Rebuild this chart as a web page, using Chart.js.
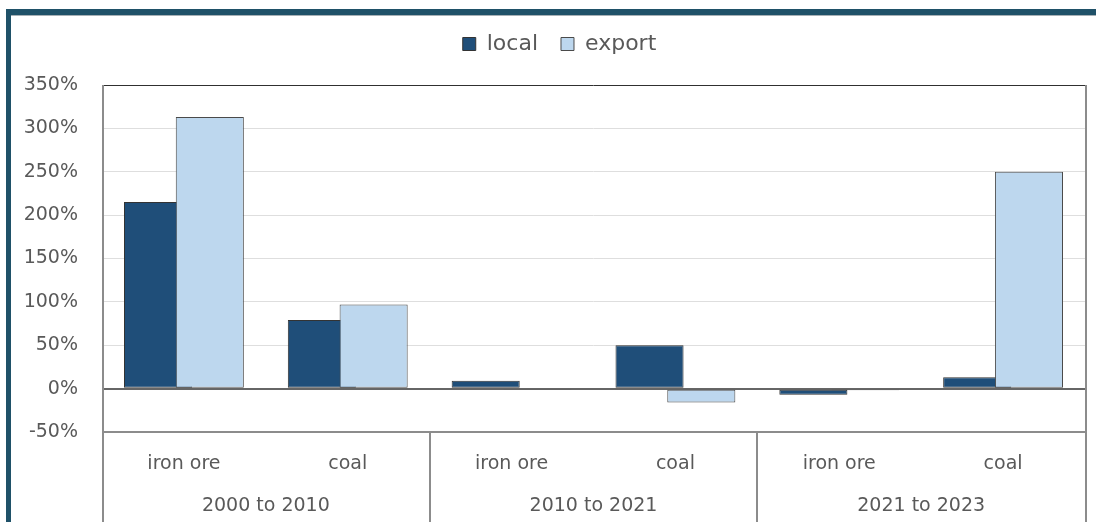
<!DOCTYPE html>
<html>
<head>
<meta charset="utf-8">
<script src="https://cdn.jsdelivr.net/npm/chart.js@4"></script>
<style>
  html, body { margin: 0; padding: 0; background: #ffffff; }
  #wrap { position: relative; width: 1096px; height: 522px; }
  canvas { display: block; }
</style>
</head>
<body>
<div id="wrap"><canvas id="chart" width="1096" height="522"></canvas></div>
<script>
// Commodity categories, one per bar pair, and the periods they are grouped under
const categories = ['iron ore', 'coal', 'iron ore', 'coal', 'iron ore', 'coal'];
const periods = ['2000 to 2010', '2010 to 2021', '2021 to 2023'];

// Percentage change by destination
const localChange = [215, 79, 9, 50, -7, 13];
const exportChange = [313, 97, -1, -16, -2, 250];

// Value axis range and step (percent)
const yMin = -50;
const yMax = 350;
const yStep = 50;

const TEXT = '#595959';
const FONT = '"DejaVu Sans", sans-serif';

// Offset of each bar from its category centre, in category units
const pairShift = 0.158;

const toPoints = (vals, dx) => vals.map((v, i) => ({ x: i + dx, y: v }));

// Frame around the figure and the category/period rows below the plot
const framePlugin = {
  id: 'frame',
  beforeDraw(chart) {
    const { ctx, width, height } = chart;
    ctx.save();
    ctx.fillStyle = '#1f5168';
    ctx.fillRect(6, 9, width - 6, 6);
    ctx.fillRect(6, 9, 5, height - 9);
    ctx.fillStyle = '#a7b0b5';
    ctx.fillRect(11, 15, width - 11, 1);
    ctx.restore();
  },
  afterDraw(chart) {
    const { ctx, chartArea: a, height } = chart;
    const xs = chart.scales.x;
    ctx.save();
    ctx.strokeStyle = '#8c8c8c';
    ctx.lineWidth = 2;
    ctx.beginPath();
    ctx.moveTo(a.left + 1, a.top);
    ctx.lineTo(a.left + 1, height);
    ctx.moveTo(a.right + 1, a.top);
    ctx.lineTo(a.right + 1, height);
    for (let g = 1; g < periods.length; g++) {
      const px = Math.round(xs.getPixelForValue(g * 2 - 0.5));
      ctx.moveTo(px, a.bottom);
      ctx.lineTo(px, height);
    }
    ctx.stroke();

    ctx.fillStyle = TEXT;
    ctx.font = '19px ' + FONT;
    ctx.textAlign = 'center';
    ctx.textBaseline = 'alphabetic';
    categories.forEach((c, i) => {
      ctx.fillText(c, xs.getPixelForValue(i), a.bottom + 37);
    });
    periods.forEach((p, g) => {
      ctx.fillText(p, xs.getPixelForValue(g * 2 + 0.5), a.bottom + 79);
    });
    ctx.restore();
  }
};

// Extra space between the legend and the plot, and a small nudge to the right
const legendPlace = {
  id: 'legendPlace',
  afterInit(chart) {
    const lg = chart.legend;
    const fit = lg.fit.bind(lg);
    lg.fit = function () {
      fit();
      this.height += 20;
    };
  },
  afterLayout(chart) {
    chart.legend.left += 7;
    chart.legend.right += 7;
  }
};

new Chart(document.getElementById('chart'), {
  type: 'bar',
  data: {
    datasets: [
      {
        label: 'local',
        data: toPoints(localChange, -pairShift),
        backgroundColor: '#1f4e79',
        borderColor: '#333333',
        borderWidth: 1,
        borderSkipped: false,
        grouped: false,
        order: 1,
        categoryPercentage: 1,
        barPercentage: 1.315
      },
      {
        label: 'export',
        data: toPoints(exportChange, pairShift),
        backgroundColor: '#bdd7ee',
        borderColor: '#4a4a4a',
        borderWidth: 1,
        borderSkipped: false,
        grouped: false,
        order: 0,
        categoryPercentage: 1,
        barPercentage: 1.315
      }
    ]
  },
  options: {
    responsive: false,
    animation: false,
    events: [],
    layout: { padding: { top: 10, right: 11, bottom: 90, left: 20 } },
    plugins: {
      tooltip: { enabled: false },
      legend: {
        position: 'top',
        reverse: true,
        labels: {
          color: TEXT,
          font: { family: FONT, size: 22 },
          boxWidth: 13,
          boxHeight: 13,
          padding: 23
        }
      }
    },
    scales: {
      x: {
        type: 'linear',
        offset: false,
        min: -0.5,
        max: categories.length - 0.5,
        display: false,
        ticks: { stepSize: 1 }
      },
      y: {
        min: yMin,
        max: yMax,
        afterFit(scale) { scale.width = 82; },
        border: { display: false },
        grid: {
          drawTicks: false,
          color: (c) => {
            const v = c.tick.value;
            if (v === 0) return '#666666';
            if (v === yMax) return '#303030';
            if (v === yMin) return '#8c8c8c';
            return '#dedede';
          },
          lineWidth: (c) => {
            const v = c.tick.value;
            if (v === 0 || v === yMin) return 2;
            return 1;
          }
        },
        ticks: {
          stepSize: yStep,
          padding: 24,
          color: TEXT,
          font: { family: FONT, size: 19 },
          callback: (v) => v + '%'
        }
      }
    }
  },
  plugins: [framePlugin, legendPlace]
});
</script>
</body>
</html>
